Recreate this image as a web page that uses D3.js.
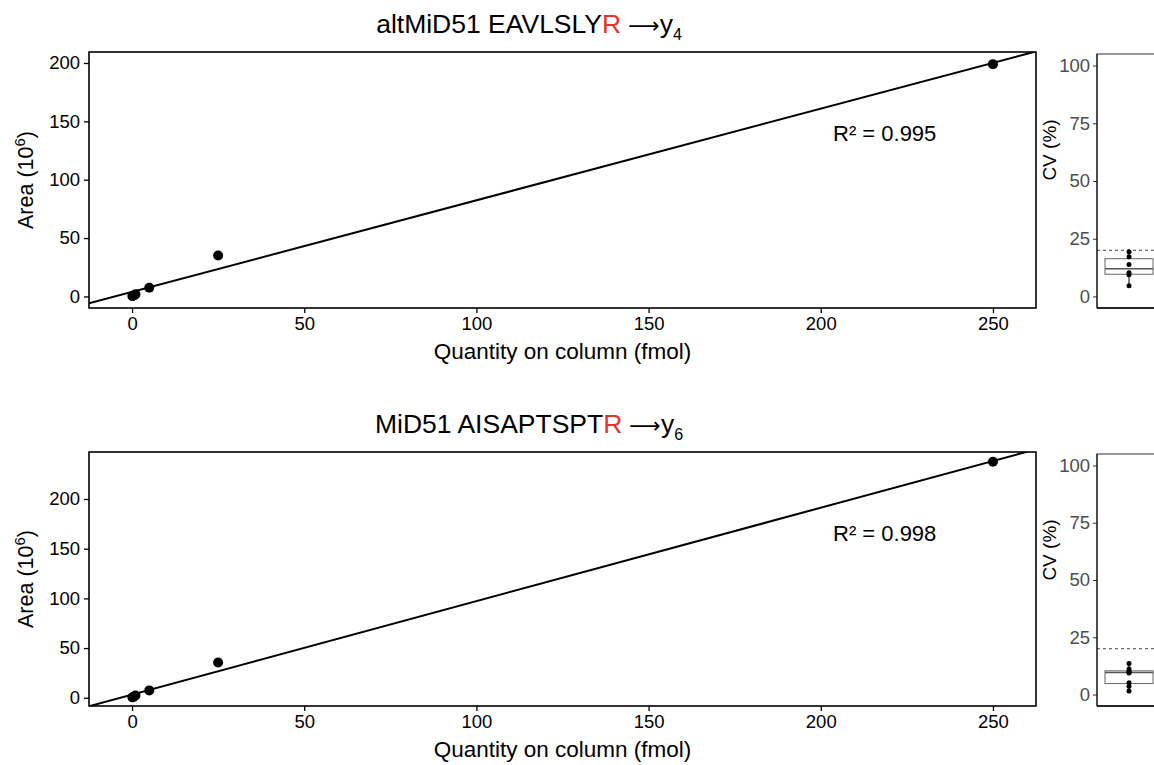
<!DOCTYPE html>
<html>
<head>
<meta charset="utf-8">
<script src="https://cdn.jsdelivr.net/npm/d3@7"></script>
<style>
  body { margin: 0; background: #fff; }
  svg { font-family: "Liberation Sans", Arial, sans-serif; }
</style>
</head>
<body>
<div id="container"></div>
<script>
// Data
const quantities = [0.1, 0.5, 1, 5, 25, 250];          // fmol on column
const areaAlt = [0.3, 0.8, 1.8, 7.4, 35, 199];         // 10^6
const areaMid = [0.4, 1.0, 2.2, 7.4, 35.5, 237.4];
const cvAlt = [4.6, 9.4, 10.3, 13.8, 17.2, 19.4];      // CV %
const cvMid = [1.5, 3.6, 5.2, 9.4, 9.8, 10.1, 11.1, 13.5];
const xTicks = [0, 50, 100, 150, 200, 250];
const yTicks = [0, 50, 100, 150, 200];
const cvTicks = [0, 25, 50, 75, 100];
const cvLimit = 20;
const panels = [
  { name: "altMiD51", peptide: "EAVLSLY", last: "R", ion: "4", area: areaAlt, cv: cvAlt, r2: "0.995" },
  { name: "MiD51", peptide: "AISAPTSPT", last: "R", ion: "6", area: areaMid, cv: cvMid, r2: "0.998" }
];

const width = 1154;
const height = 765;
const svg = d3.select("#container").append("svg")
  .attr("width", width)
  .attr("height", height);

const x = d3.scaleLinear().domain([-12.5, 262.5]).range([89, 1036]);

// linear least squares
const fit = (xs, ys) => {
  const mx = d3.mean(xs), my = d3.mean(ys);
  const sxy = d3.sum(xs, (v, i) => (v - mx) * (ys[i] - my));
  const sxx = d3.sum(xs, (v) => (v - mx) * (v - mx));
  const b = sxy / sxx;
  return { b: b, a: my - b * mx };
};

const layout = [
  { top: 52, bottom: 308, yDomain: [-9.9, 209.4] },
  { top: 452, bottom: 706, yDomain: [-8.3, 247.3] }
];

panels.forEach((p, k) => {
  const L = layout[k];
  const g = svg.append("g");
  const y = d3.scaleLinear().domain(L.yDomain).range([L.bottom, L.top]);

  // title
  const title = g.append("text")
    .attr("x", 529)
    .attr("y", L.top - 19)
    .attr("text-anchor", "middle")
    .attr("font-size", 26.5)
    .attr("fill", "#000");
  title.append("tspan").text(p.name + " " + p.peptide);
  title.append("tspan").attr("fill", "#e8332b").text(p.last);
  title.append("tspan").attr("font-family", "DejaVu Sans").attr("font-size", 22).text(" \u27F6");
  title.append("tspan").text("y");
  title.append("tspan").attr("font-size", 16).attr("dy", 7).text(p.ion);

  // clip
  const clipId = "clip" + k;
  svg.append("clipPath").attr("id", clipId)
    .append("rect")
    .attr("x", x.range()[0]).attr("y", L.top)
    .attr("width", x.range()[1] - x.range()[0])
    .attr("height", L.bottom - L.top);

  // regression line over the full x range
  const f = fit(quantities, p.area);
  const xs = x.domain();
  g.append("line")
    .attr("clip-path", "url(#" + clipId + ")")
    .attr("x1", x(xs[0])).attr("y1", y(f.a + f.b * xs[0]))
    .attr("x2", x(xs[1])).attr("y2", y(f.a + f.b * xs[1]))
    .attr("stroke", "#000")
    .attr("stroke-width", 2);

  g.selectAll("circle.pt")
    .data(quantities)
    .enter()
    .append("circle")
    .attr("class", "pt")
    .attr("cx", (d) => x(d))
    .attr("cy", (d, i) => y(p.area[i]))
    .attr("r", 5)
    .attr("fill", "#000");

  // frame
  g.append("rect")
    .attr("x", x.range()[0]).attr("y", L.top)
    .attr("width", x.range()[1] - x.range()[0])
    .attr("height", L.bottom - L.top)
    .attr("fill", "none")
    .attr("stroke", "#000")
    .attr("stroke-width", 1.6);

  // axes
  const xAxis = g.append("g")
    .attr("transform", "translate(0," + L.bottom + ")")
    .call(d3.axisBottom(x).tickValues(xTicks).tickSize(5).tickPadding(4));
  const yAxis = g.append("g")
    .attr("transform", "translate(" + x.range()[0] + ",0)")
    .call(d3.axisLeft(y).tickValues(yTicks).tickSize(5).tickPadding(4));
  [xAxis, yAxis].forEach((a) => {
    a.select(".domain").remove();
    a.selectAll(".tick line").attr("stroke", "#000").attr("stroke-width", 1.3);
    a.selectAll(".tick text")
      .attr("font-size", 18.5)
      .attr("fill", "#000")
      .attr("font-family", "Liberation Sans, Arial, sans-serif");
  });

  g.append("text")
    .attr("x", (x.range()[0] + x.range()[1]) / 2)
    .attr("y", L.bottom + 51)
    .attr("text-anchor", "middle")
    .attr("font-size", 22.5)
    .text("Quantity on column (fmol)");

  const yl = g.append("text")
    .attr("transform", "translate(33," + (L.top + L.bottom) / 2 + ") rotate(-90)")
    .attr("text-anchor", "middle")
    .attr("font-size", 21.5);
  yl.append("tspan").text("Area (10");
  yl.append("tspan").attr("font-size", 15).attr("dy", -8).text("6");
  yl.append("tspan").attr("dy", 8).text(")");

  g.append("text")
    .attr("x", 833)
    .attr("y", L.top + 89)
    .attr("font-size", 22)
    .text("R\u00B2 = " + p.r2);

  // CV panel
  const cvLeft = 1097;
  const cy = d3.scaleLinear().domain([-5, 105]).range([L.bottom, L.top + 2]);
  const cx = 1129;
  const boxW = 48;
  const s = p.cv.slice().sort(d3.ascending);
  const q1 = d3.quantile(s, 0.25), med = d3.quantile(s, 0.5), q3 = d3.quantile(s, 0.75);
  const iqr = q3 - q1;
  const lo = d3.min(s.filter((v) => v >= q1 - 1.5 * iqr));
  const hi = d3.max(s.filter((v) => v <= q3 + 1.5 * iqr));
  const cg = svg.append("g");

  cg.append("rect")
    .attr("x", cvLeft).attr("y", L.top + 2)
    .attr("width", 80).attr("height", L.bottom - L.top - 2)
    .attr("fill", "none")
    .attr("stroke", "#333")
    .attr("stroke-width", 1);
  cg.append("line")
    .attr("x1", cvLeft).attr("x2", width)
    .attr("y1", cy(cvLimit)).attr("y2", cy(cvLimit))
    .attr("stroke", "#444")
    .attr("stroke-dasharray", "3,3");
  cg.append("line")
    .attr("x1", cx).attr("x2", cx)
    .attr("y1", cy(hi)).attr("y2", cy(q3))
    .attr("stroke", "#000");
  cg.append("line")
    .attr("x1", cx).attr("x2", cx)
    .attr("y1", cy(q1)).attr("y2", cy(lo))
    .attr("stroke", "#000");
  cg.append("rect")
    .attr("x", cx - boxW / 2).attr("y", cy(q3))
    .attr("width", boxW).attr("height", cy(q1) - cy(q3))
    .attr("fill", "#fff")
    .attr("stroke", "#666")
    .attr("stroke-width", 1);
  cg.append("line")
    .attr("x1", cx - boxW / 2).attr("x2", cx + boxW / 2)
    .attr("y1", cy(med)).attr("y2", cy(med))
    .attr("stroke", "#555")
    .attr("stroke-width", 1.5);
  cg.selectAll("circle")
    .data(p.cv)
    .enter()
    .append("circle")
    .attr("cx", cx)
    .attr("cy", (d) => cy(d))
    .attr("r", 2.5)
    .attr("fill", "#000");

  const cAxis = cg.append("g")
    .attr("transform", "translate(" + cvLeft + ",0)")
    .call(d3.axisLeft(cy).tickValues(cvTicks).tickSize(4).tickPadding(3));
  cAxis.select(".domain").remove();
  cAxis.selectAll(".tick line").attr("stroke", "#333");
  cAxis.selectAll(".tick text")
    .attr("font-size", 18.5)
    .attr("fill", "#4d4d4d")
    .attr("font-family", "Liberation Sans, Arial, sans-serif");
  cg.append("line")
    .attr("x1", cvLeft).attr("x2", cvLeft)
    .attr("y1", L.top + 2).attr("y2", L.bottom)
    .attr("stroke", "#000");
  cg.append("line")
    .attr("x1", cvLeft).attr("x2", width)
    .attr("y1", L.bottom).attr("y2", L.bottom)
    .attr("stroke", "#000")
    .attr("stroke-width", 1.4);

  cg.append("text")
    .attr("transform", "translate(1056," + (L.top + 98) + ") rotate(-90)")
    .attr("text-anchor", "middle")
    .attr("font-size", 19)
    .attr("fill", "#000")
    .text("CV (%)");
});
</script>
</body>
</html>
